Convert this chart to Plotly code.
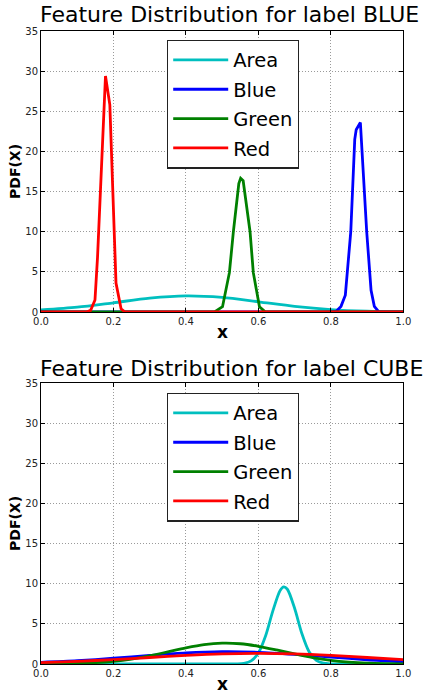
import plotly.graph_objects as go

# ---------------- data ----------------
# Top panel: label BLUE
blue_area_x = [0.0, 0.1, 0.2, 0.3, 0.4, 0.5, 0.6, 0.7, 0.8, 0.9, 1.0]
blue_area_y = [0.25, 0.60, 1.15, 1.72, 2.0, 1.81, 1.27, 0.70, 0.30, 0.10, 0.03]

blue_blue_x = [0.0, 0.80, 0.815, 0.828, 0.84, 0.855, 0.866, 0.870, 0.8815, 0.899, 0.911, 0.92, 0.932, 0.945, 1.0]
blue_blue_y = [0.0, 0.0, 0.1, 0.7, 2.1, 10.0, 21.5, 22.7, 23.6, 10.0, 2.7, 0.7, 0.05, 0.0, 0.0]

blue_green_x = [0.0, 0.47, 0.48, 0.501, 0.52, 0.531, 0.546, 0.551, 0.558, 0.577, 0.586, 0.603, 0.618, 0.63, 1.0]
blue_green_y = [0.0, 0.0, 0.05, 0.66, 4.9, 10.0, 16.0, 16.65, 16.35, 10.0, 4.9, 0.66, 0.05, 0.0, 0.0]

blue_red_x = [0.0, 0.125, 0.137, 0.149, 0.156, 0.178, 0.19, 0.207, 0.221, 0.232, 1.0]
blue_red_y = [0.0, 0.0, 0.2, 1.5, 6.8, 29.4, 25.8, 3.6, 0.4, 0.0, 0.0]

# Bottom panel: label CUBE
cube_area_x = [0.0, 0.52, 0.54, 0.56, 0.58, 0.60, 0.62, 0.64, 0.66, 0.67, 0.68, 0.70, 0.72, 0.74, 0.76, 0.78, 0.80, 0.82, 1.0]
cube_area_y = [0.0, 0.0, 0.01, 0.08, 0.39, 1.37, 3.52, 6.62, 9.16, 9.6, 9.31, 6.94, 3.80, 1.53, 0.45, 0.10, 0.02, 0.0, 0.0]

cube_blue_x = [0.0, 0.1, 0.2, 0.3, 0.4, 0.5, 0.6, 0.7, 0.8, 0.9, 1.0]
cube_blue_y = [0.21, 0.41, 0.72, 1.07, 1.38, 1.53, 1.46, 1.20, 0.86, 0.53, 0.28]

cube_green_x = [0.0, 0.05, 0.1, 0.15, 0.2, 0.25, 0.3, 0.35, 0.4, 0.45, 0.5, 0.55, 0.6, 0.65, 0.7, 0.75, 0.8, 0.85, 0.9, 0.95, 1.0]
cube_green_y = [0.01, 0.03, 0.08, 0.17, 0.34, 0.62, 1.02, 1.51, 2.0, 2.40, 2.59, 2.52, 2.21, 1.75, 1.25, 0.80, 0.46, 0.24, 0.11, 0.05, 0.02]

cube_red_x = [0.0, 0.1, 0.2, 0.3, 0.4, 0.5, 0.6, 0.7, 0.8, 0.9, 1.0]
cube_red_y = [0.18, 0.33, 0.55, 0.81, 1.07, 1.26, 1.33, 1.26, 1.07, 0.81, 0.55]

series_names = ["Area", "Blue", "Green", "Red"]
series_colors = ["#00BFBF", "#0000FF", "#008000", "#FF0000"]

titles = ["Feature Distribution for label BLUE", "Feature Distribution for label CUBE"]
x_ticks = [0.0, 0.2, 0.4, 0.6, 0.8, 1.0]
y_ticks = [0, 5, 10, 15, 20, 25, 30, 35]

# ---------------- figure ----------------
W, H = 425, 697
FONT = "DejaVu Sans"

def px_x(p):
    return p / W

def px_y(p):
    return 1 - p / H

fig = go.Figure()

panels = [
    (dict(xaxis="x", yaxis="y"), "legend",
     [(blue_area_x, blue_area_y, True), (blue_blue_x, blue_blue_y, False),
      (blue_green_x, blue_green_y, False), (blue_red_x, blue_red_y, False)]),
    (dict(xaxis="x2", yaxis="y2"), "legend2",
     [(cube_area_x, cube_area_y, True), (cube_blue_x, cube_blue_y, True),
      (cube_green_x, cube_green_y, True), (cube_red_x, cube_red_y, True)]),
]

for axes, leg, data in panels:
    for (xs, ys, smooth), name, color in zip(data, series_names, series_colors):
        fig.add_trace(go.Scatter(
            x=xs, y=ys, mode="lines", name=name,
            line=dict(color=color, width=2.8, shape="spline" if smooth else "linear",
                      smoothing=0.8 if smooth else None),
            legend=leg, legendgroup=leg + name,
            **axes,
        ))

x_dom = [px_x(41), px_x(403.3)]
top_dom = [px_y(312), px_y(31)]
bot_dom = [px_y(664), px_y(383)]

axis_common = dict(
    showline=True, linecolor="black", linewidth=1, mirror="ticks",
    ticks="inside", ticklen=4, tickcolor="black", automargin=False,
    showgrid=True, gridcolor="#9a9a9a", griddash="1px,2px", gridwidth=0.8,
    zeroline=False, tickfont=dict(family=FONT, size=10, color="#222"),
)

legend_common = dict(
    xanchor="left", yanchor="top",
    bgcolor="white", bordercolor="#222", borderwidth=1.2,
    font=dict(family=FONT, size=19.5, color="black"),
    tracegroupgap=1, itemwidth=55,
)

fig.update_layout(
    template="none",
    width=W, height=H,
    margin=dict(l=0, r=0, t=0, b=0, pad=0),
    paper_bgcolor="white", plot_bgcolor="white",
    font=dict(family=FONT, color="black"),
    xaxis=dict(domain=x_dom, range=[0, 1], tickvals=x_ticks, tickformat=".1f",
               anchor="y", **axis_common),
    yaxis=dict(domain=top_dom, range=[0, 35], tickvals=y_ticks, anchor="x", **axis_common),
    xaxis2=dict(domain=x_dom, range=[0, 1], tickvals=x_ticks, tickformat=".1f",
                anchor="y2", **axis_common),
    yaxis2=dict(domain=bot_dom, range=[0, 35], tickvals=y_ticks, anchor="x2", **axis_common),
    legend=dict(x=px_x(167), y=px_y(39.5), **legend_common),
    legend2=dict(x=px_x(167), y=px_y(392.5), **legend_common),
    showlegend=True,
)

def ann(text, xp, yp, size, angle=0):
    return dict(text=text, x=px_x(xp), y=px_y(yp), xref="paper", yref="paper",
                xanchor="center", yanchor="middle", showarrow=False, textangle=angle,
                font=dict(family=FONT, size=size, color="black"))

annotations = [
    ann(titles[0], 229, 15, 22),
    ann(titles[1], 231, 368, 22),
    ann("<b>x</b>", 222, 332, 17),
    ann("<b>x</b>", 222, 684, 17),
    ann("<b>PDF(X)</b>", 15, 172, 14, -90),
    ann("<b>PDF(X)</b>", 15, 524, 14, -90),
]
fig.update_layout(annotations=annotations)

fig.write_html("out.html", config={"displayModeBar": False},
               post_script="document.body.style.margin='0px';")
